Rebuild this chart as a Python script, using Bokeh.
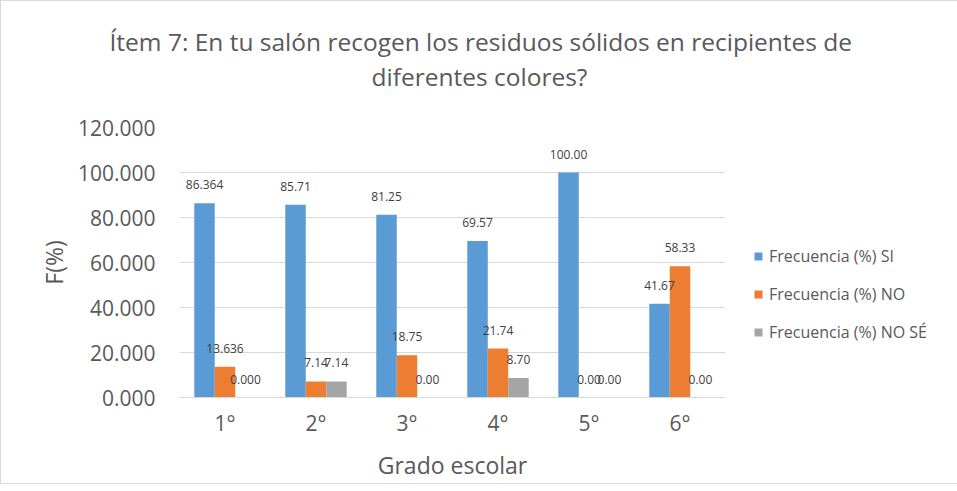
from bokeh.plotting import figure
from bokeh.models import (ColumnDataSource, FixedTicker, NumeralTickFormatter, Range1d,
                          Legend, LegendItem, Title, LabelSet)
from bokeh.transform import dodge
from bokeh.embed import file_html
from bokeh.resources import INLINE
from bokeh.core.properties import value

categories = ["1°", "2°", "3°", "4°", "5°", "6°"]
si = [86.364, 85.71, 81.25, 69.57, 100.00, 41.67]
no = [13.636, 7.14, 18.75, 21.74, 0.00, 58.33]
nose = [0.000, 7.14, 0.00, 8.70, 0.00, 0.00]
decimals = [3, 2, 2, 2, 2, 2]
series_names = ["Frecuencia (%) SI", "Frecuencia (%) NO", "Frecuencia (%) NO SÉ"]
y_ticks = [0, 20, 40, 60, 80, 100, 120]
title_line1 = "Ítem 7: En tu salón recogen los residuos sólidos en recipientes de"
title_line2 = "diferentes colores?"

colors = ["#5B9BD5", "#ED7D31", "#A5A5A5"]
FONT = "Open Sans"
TXT = "#595959"

def fmt(vals):
    return [f"{v:.{d}f}" for v, d in zip(vals, decimals)]

src = ColumnDataSource(dict(cat=categories, si=si, no=no, nose=nose,
                            si_l=fmt(si), no_l=fmt(no), nose_l=fmt(nose)))

p = figure(x_range=categories, y_range=Range1d(0, 120),
           frame_width=546, frame_height=270,
           output_backend="svg", toolbar_location=None,
           min_border_left=178, min_border_right=217, min_border_top=126, min_border_bottom=77)
p.styles = {"border": "1px solid #D9D9D9"}
p.outline_line_color = None
p.background_fill_color = "white"
p.border_fill_color = "white"

# blank spacer between the frame and the two title lines
spacer = Title(text=" ", standoff=31, text_font_size="2px", text_color="white")
t2 = Title(text=title_line2, align="left", offset=192, standoff=0,
           text_font=FONT, text_font_size="24.5px", text_font_style="normal", text_color=TXT)
t1 = Title(text=title_line1, align="left", offset=-70, standoff=0,
           text_font=FONT, text_font_size="24.5px", text_font_style="normal", text_color=TXT)
p.add_layout(spacer, "above")
p.add_layout(t2, "above")
p.add_layout(t1, "above")

bw = 0.225
offs = [-bw, 0.0, bw]
keys = ["si", "no", "nose"]
rends = []
for k, off, c in zip(keys, offs, colors):
    r = p.vbar(x=dodge("cat", off, range=p.x_range), top=k, width=bw, source=src,
               fill_color=c, line_color=None)
    rends.append(r)
    ls = LabelSet(x=dodge("cat", off, range=p.x_range), y=k, text=k + "_l", source=src,
                  text_align="center", text_baseline="middle", y_offset=18.5,
                  text_font=value(FONT), text_font_size="12px", text_color="#404040")
    p.add_layout(ls)

p.yaxis.ticker = FixedTicker(ticks=y_ticks)
p.yaxis.formatter = NumeralTickFormatter(format="0.000")
p.ygrid.grid_line_color = "#D9D9D9"
p.xgrid.grid_line_color = None
p.yaxis.axis_line_color = None
p.xaxis.axis_line_color = "#D9D9D9"
p.axis.major_tick_line_color = None
p.axis.minor_tick_line_color = None
p.axis.major_label_text_font = FONT
p.axis.major_label_text_font_size = "21px"
p.axis.major_label_text_color = TXT
p.axis.axis_label_text_font = FONT
p.axis.axis_label_text_font_size = "23px"
p.axis.axis_label_text_font_style = "normal"
p.axis.axis_label_text_color = TXT
p.yaxis.axis_label = "F(%)"
p.xaxis.axis_label = "Grado escolar"
p.yaxis.major_label_standoff = 18
p.xaxis.major_label_standoff = 5
p.yaxis.axis_label_standoff = 5
p.xaxis.axis_label_standoff = 9

legend = Legend(items=[LegendItem(label=n, renderers=[r]) for n, r in zip(series_names, rends)],
                location=(28, 54), border_line_color=None, background_fill_alpha=0,
                label_text_font=FONT, label_text_font_size="16px", label_text_color=TXT,
                glyph_width=10, glyph_height=10, label_standoff=6,
                spacing=16, padding=0, margin=0)
p.add_layout(legend, "right")

open("out.html", "w").write(file_html(p, INLINE))
